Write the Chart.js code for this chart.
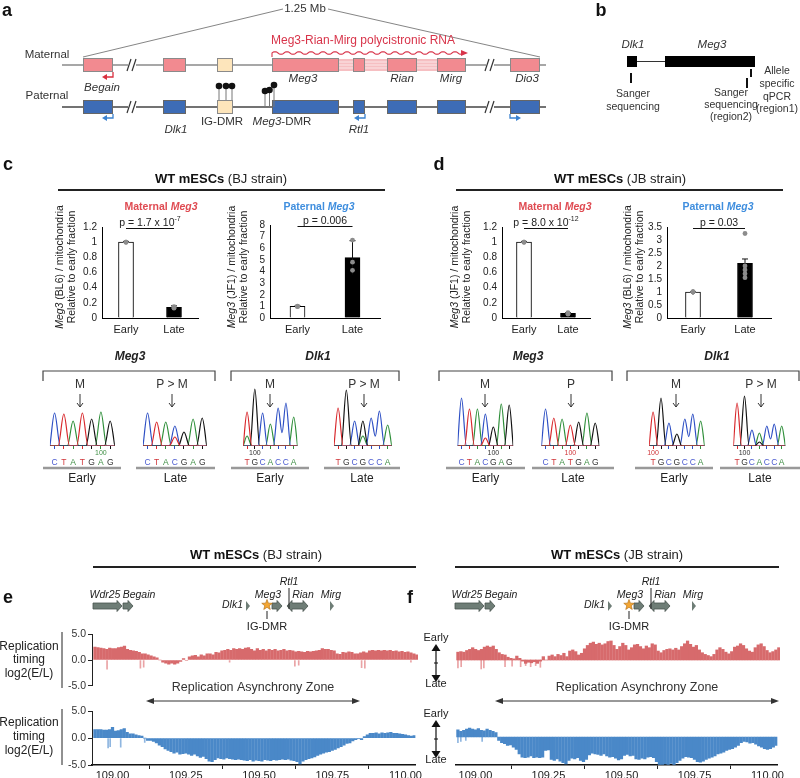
<!DOCTYPE html>
<html>
<head>
<meta charset="utf-8">
<script src="https://cdn.jsdelivr.net/npm/chart.js@4.4.1/dist/chart.umd.min.js"></script>
<style>
  body { margin: 0; background: #fff; width: 800px; height: 778px; position: relative; overflow: hidden; }
  #overlay { position: absolute; left: 0; top: 0; z-index: 5; pointer-events: none; }
</style>
</head>
<body>
<canvas id="overlay" width="800" height="778"></canvas>
<script>
// ---------- data ----------
const fractions = ['Early', 'Late'];

// c: WT mESCs (BJ strain), allele specific qPCR, relative to early fraction
const bjMatMean = [1.0, 0.14];
const bjMatErr = [0.01, 0.02];
const bjMatDots = [[1.0, 1.0, 1.0], [0.15, 0.13, 0.14]];
const bjPatMean = [1.0, 5.2];
const bjPatErr = [0.04, 1.45];
const bjPatDots = [[1.0, 1.03, 0.97], [6.7, 4.8, 4.1]];

// d: WT mESCs (JB strain)
const jbMatMean = [1.0, 0.06];
const jbMatErr = [0.01, 0.01];
const jbMatDots = [[1.0, 1.0, 1.0], [0.07, 0.05, 0.06]];
const jbPatMean = [1.0, 2.1];
const jbPatErr = [0.02, 0.17];
const jbPatDots = [[1.0, 1.0, 1.0, 1.0, 1.0], [3.25, 2.0, 1.85, 1.7, 1.55]];

// Sanger traces: called bases, main peak height, minor peaks [index, base, height]
const bjMeg3EarlySeq = ['C', 'T', 'A', 'T', 'G', 'A', 'G'];
const bjMeg3EarlyPeaks = [33, 32, 25, 33, 27, 34, 25];
const bjMeg3EarlyMinor = [];
const bjMeg3LateSeq = ['C', 'T', 'A', 'C', 'G', 'A', 'G'];
const bjMeg3LatePeaks = [33, 24, 24, 20, 14, 27, 28];
const bjMeg3LateMinor = [[3, 'T', 9]];
const bjDlk1EarlySeq = ['T', 'G', 'C', 'A', 'C', 'C', 'A'];
const bjDlk1EarlyPeaks = [34, 57, 33, 22, 38, 43, 29];
const bjDlk1EarlyMinor = [[0, 'A', 10]];
const bjDlk1LateSeq = ['T', 'G', 'C', 'G', 'C', 'C', 'A'];
const bjDlk1LatePeaks = [38, 56, 25, 25, 28, 35, 21];
const bjDlk1LateMinor = [[3, 'A', 10]];

const jbMeg3EarlySeq = ['C', 'T', 'A', 'C', 'G', 'A', 'G'];
const jbMeg3EarlyPeaks = [48, 37, 37, 32, 19, 42, 41];
const jbMeg3EarlyMinor = [[3, 'T', 8]];
const jbMeg3LateSeq = ['C', 'T', 'A', 'T', 'G', 'A', 'G'];
const jbMeg3LatePeaks = [37, 28, 27, 21, 24, 33, 23];
const jbMeg3LateMinor = [];
const jbDlk1EarlySeq = ['T', 'G', 'C', 'G', 'C', 'C', 'A'];
const jbDlk1EarlyPeaks = [34, 48, 23, 12, 27, 32, 25];
const jbDlk1EarlyMinor = [];
const jbDlk1LateSeq = ['T', 'G', 'C', 'A', 'C', 'C', 'A'];
const jbDlk1LatePeaks = [43, 50, 16, 13, 20, 22, 20];
const jbDlk1LateMinor = [[3, 'G', 4]];

// replication timing log2(E/L), 10 kb bins from 108.94 Mb
const trackStart = 108.94;
const trackStep = 0.01;
const rtXTicks = [109.0, 109.25, 109.5, 109.75, 110.0];
const rtYTicks = [-5, -2.5, 0, 2.5, 5];

const bjMatRT = [
  2.5, 2.4, 2.3, 2.2, 2.1, 2.3, 2.2, 2.2, 2.4, 2.5,
  2.7, 2.1, 1.9, 1.8, 1.7, 1.5, 1.2, 1.2, 1.0, 0.8,
  0.6, 0.4, 0.0, -0.4, -0.6, -0.8, -0.6, -0.8, -0.6, -0.3,
  0.3, -0.1, 0.6, 0.8, 0.9, 0.6, 1.0, 0.8, 1.2, 1.2,
  1.0, 1.5, 1.4, 1.8, 1.9, 2.1, 1.9, 2.2, 2.1, 2.2,
  2.1, 2.3, 2.4, 2.1, 1.8, 2.2, 1.9, 2.1, 1.8, 2.1,
  1.9, 2.1, 1.8, 1.9, 2.1, 1.8, 1.9, 1.8, 1.6, 1.7,
  1.6, 1.5, 1.7, 1.6, 1.7, 1.8, 1.9, 2.2, 2.1, 2.1,
  1.9, 1.8, 1.2, 1.1, 1.5, 1.4, 1.6, 1.5, 1.2, 1.2,
  1.4, 1.6, 1.4, 1.8, 1.9, 1.8, 1.9, 1.8, 1.9, 1.8,
  1.9, 1.7, 1.8, 1.6, 1.7, 1.5, 1.6, 1.4, 1.2, 1.0
];
const bjPatRT = [
  1.6, 1.6, 1.6, 1.5, 1.5, 1.6, 2.0, 1.3, 1.4, 1.6,
  1.8, 1.1, 0.8, 0.8, 0.6, 0.5, 0.4, 0.0, -0.4, -0.4,
  -0.6, -0.9, -1.3, -1.6, -2.0, -2.3, -2.5, -2.8, -2.6, -3.0,
  -2.9, -2.8, -3.0, -3.2, -3.0, -3.3, -3.6, -3.4, -3.8, -4.3,
  -4.4, -4.0, -3.7, -3.8, -3.9, -3.7, -3.8, -3.9, -4.0, -3.9,
  -4.0, -4.1, -4.2, -4.0, -4.3, -4.1, -4.2, -4.3, -4.0, -4.1,
  -4.2, -4.0, -4.1, -4.0, -3.9, -4.0, -3.9, -4.1, -4.2, -4.4,
  -4.8, -4.3, -4.0, -3.8, -3.7, -3.5, -3.2, -3.0, -2.8, -2.6,
  -2.5, -2.3, -2.1, -1.8, -1.6, -1.3, -1.0, -0.9, -0.5, -0.3,
  -0.1, -0.3, 0.3, 0.6, 0.9, 0.9, 1.0, 0.8, 1.0, 0.9,
  1.0, 1.1, 0.9, 0.9, 0.8, 0.7, 0.6, 0.5, 0.4, 0.5
];
const jbMatRT = [
  1.4, 1.5, 1.4, 1.7, 1.9, 2.2, 1.9, 1.7, 1.9, 2.3,
  2.5, 2.3, 2.5, 1.9, 1.3, 1.0, 0.9, 0.5, 0.3, 0.2,
  0.7, 0.3, -0.2, -0.6, -0.4, -0.5, -0.3, -0.6, -0.2, 0.6,
  0.0, 0.7, 0.9, 0.6, 1.0, 0.8, 1.2, 0.6, 1.6, 1.8,
  1.5, 0.9, 1.2, 2.0, 2.6, 3.0, 3.2, 2.8, 3.0, 2.7,
  2.9, 3.3, 3.4, 2.6, 1.9, 2.4, 3.0, 2.6, 1.8, 2.2,
  2.7, 2.8, 2.4, 2.0, 2.5, 2.2, 2.9, 2.7, 1.6, 1.3,
  1.7, 1.9, 2.0, 1.8, 2.1, 1.8, 2.4, 2.9, 3.4, 2.8,
  2.3, 2.6, 1.8, 1.3, 1.0, 0.8, 0.6, 1.0, 1.8, 2.2,
  1.9, 1.4, 1.1, 1.5, 2.3, 2.5, 2.9, 2.6, 2.0, 1.6,
  1.4, 2.2, 2.7, 2.9, 2.4, 1.7, 1.3, 1.5, 1.8, 2.2
];
const jbPatRT = [
  1.3, 1.0, 1.2, 1.4, 1.6, 1.4, 1.3, 1.5, 1.2, 1.1,
  1.4, 1.2, 1.0, 0.8, -0.6, -1.0, -1.2, -1.5, -1.4, -1.8,
  -2.2, -3.0, -3.6, -3.7, -3.6, -3.4, -3.7, -3.6, -3.7, -3.6,
  -2.4, -2.3, -4.0, -4.2, -3.9, -4.3, -4.6, -4.8, -4.2, -3.8,
  -3.9, -3.7, -4.2, -4.4, -4.0, -3.2, -2.9, -3.0, -3.1, -3.3,
  -3.0, -3.4, -3.6, -3.5, -3.8, -4.1, -3.9, -3.3, -3.1, -3.4,
  -3.3, -3.9, -4.0, -3.8, -3.9, -3.6, -3.5, -3.7, -4.4, -4.9,
  -4.9, -4.8, -4.9, -4.7, -4.9, -4.6, -4.2, -3.8, -3.5, -3.6,
  -3.7, -4.0, -4.4, -4.5, -4.3, -4.0, -3.8, -3.6, -3.4, -3.0,
  -2.9, -2.7, -2.4, -2.2, -2.1, -1.8, -1.5, -1.0, -0.8, -0.9,
  -1.1, -1.0, -1.3, -1.6, -1.8, -2.1, -2.2, -2.1, -1.8, -1.5
];
// single-bin dips [position Mb, log2(E/L)]
const bjMatDips = [[108.981, -1.8], [109.094, -1.6], [109.105, -1.4], [109.396, -0.4], [109.617, -1.2], [109.63, -1.0], [109.843, -1.5], [109.854, -1.6], [110.01, -0.4]];
const bjPatDips = [[108.985, -1.8], [108.992, -1.6], [109.028, -1.7], [109.11, -0.8]];
const jbMatDips = [[108.94, -1.4], [108.951, -1.2], [109.019, -1.6], [109.028, -1.4], [109.10, -1.2], [109.124, -1.1], [109.153, -1.2], [109.17, -1.0], [109.187, -1.2], [109.204, -1.0], [109.22, -1.3]];
const jbPatDips = [[108.94, -1.0], [108.95, -0.8], [108.967, -0.6], [109.023, -0.8]];

// ---------- setup ----------
const FF = "'Liberation Sans', Arial, sans-serif";
Chart.defaults.font.family = FF;
Chart.defaults.color = '#222';
Chart.defaults.animation = false;
Chart.defaults.events = [];
Chart.defaults.plugins.legend.display = false;
Chart.defaults.plugins.tooltip.enabled = false;

const RED = '#df4b52';
const BLUE = '#3f8ede';
const traceColor = { A: '#2f8f3a', C: '#2d4fc4', G: '#111111', T: '#d8282c' };
const letterColor = { A: '#3f8f45', C: '#4b5bd0', G: '#333333', T: '#d0363a' };

function makeCanvas(left, top, w, h) {
  const c = document.createElement('canvas');
  c.width = w; c.height = h;
  c.style.cssText = `position:absolute;left:${left}px;top:${top}px;width:${w}px;height:${h}px`;
  document.body.appendChild(c);
  return c;
}

// ---------- qPCR bar charts ----------
const pBracket = {
  id: 'pBracket',
  afterDatasetDraw(chart, args, o) {
    if (args.index !== 0) return;
    const { ctx, scales: { x, y } } = chart;
    ctx.save();
    ctx.strokeStyle = '#111';
    ctx.lineWidth = 1;
    // error bars
    o.mean.forEach((m, i) => {
      const px = x.getPixelForValue(i);
      const hi = y.getPixelForValue(m + o.err[i]);
      const lo = y.getPixelForValue(Math.max(0, m - o.err[i]));
      ctx.beginPath();
      ctx.moveTo(px, lo); ctx.lineTo(px, hi);
      ctx.moveTo(px - 3, hi); ctx.lineTo(px + 3, hi);
      ctx.stroke();
    });
    // p value bracket
    const x0 = x.getPixelForValue(0), x1 = x.getPixelForValue(1), yy = y.top + 1.5;
    ctx.beginPath(); ctx.moveTo(x0, yy); ctx.lineTo(x1, yy); ctx.stroke();
    ctx.fillStyle = '#222';
    ctx.textBaseline = 'alphabetic';
    ctx.font = `10.5px ${FF}`;
    const w0 = ctx.measureText(o.p[0]).width;
    ctx.font = `7px ${FF}`;
    const w1 = o.p[1] ? ctx.measureText(o.p[1]).width : 0;
    const sx = (x0 + x1) / 2 - (w0 + w1) / 2;
    ctx.font = `10.5px ${FF}`;
    ctx.fillText(o.p[0], sx, yy - 3);
    if (o.p[1]) { ctx.font = `7px ${FF}`; ctx.fillText(o.p[1], sx + w0, yy - 8); }
    ctx.restore();
  }
};

function qpcrChart(area, mean, err, dots, yMax, step, p) {
  const cv = makeCanvas(area.l - 24, area.t - 16, 24 + (area.r - area.l) + 6, 16 + (area.b - area.t) + 20);
  new Chart(cv, {
    type: 'bar',
    data: {
      labels: fractions,
      datasets: [
        { type: 'bar', data: mean, backgroundColor: ['#ffffff', '#000000'], borderColor: '#000', borderWidth: 1, barThickness: 15, order: 2 },
        { type: 'scatter', data: dots.flatMap((arr, i) => arr.map(v => ({ x: fractions[i], y: v }))),
          backgroundColor: '#8c8c8c', pointRadius: 2.4, borderWidth: 0, order: 1 }
      ]
    },
    options: {
      responsive: false,
      layout: { padding: { top: 16, right: 6, left: 0, bottom: 0 } },
      plugins: { pBracket: { mean, err, p } },
      scales: {
        x: {
          type: 'category', offset: true,
          grid: { display: true, drawOnChartArea: false, drawTicks: false },
          border: { display: true, color: '#000', width: 1 },
          ticks: { font: { size: 11 }, color: '#222', padding: 5 },
          afterFit(s) { s.height = 20; }
        },
        y: {
          min: 0, max: yMax,
          ticks: { stepSize: step, autoSkip: false, callback: v => String(Math.round(v * 100) / 100), font: { size: 10 }, color: '#222', padding: 5 },
          grid: { display: true, drawOnChartArea: false, drawTicks: false },
          border: { display: true, color: '#000', width: 1 },
          afterFit(s) { s.width = 24; }
        }
      }
    },
    plugins: [pBracket]
  });
}

qpcrChart({ l: 102, t: 227, r: 198, b: 318 }, bjMatMean, bjMatErr, bjMatDots, 1.2, 0.2, ['p = 1.7 x 10', '-7']);
qpcrChart({ l: 270, t: 225, r: 380, b: 318 }, bjPatMean, bjPatErr, bjPatDots, 8, 1, ['p = 0.006']);
qpcrChart({ l: 502, t: 227, r: 590, b: 318 }, jbMatMean, jbMatErr, jbMatDots, 1.2, 0.2, ['p = 8.0 x 10', '-12']);
qpcrChart({ l: 667, t: 227, r: 771, b: 318 }, jbPatMean, jbPatErr, jbPatDots, 3.5, 0.5, ['p = 0.03']);

// ---------- Sanger chromatograms ----------
const chromBase = 446;
const mark100 = {
  id: 'mark100',
  afterDraw(chart, args, o) {
    if (!o.index && o.index !== 0) return;
    const { ctx, scales: { x }, chartArea } = chart;
    ctx.save();
    ctx.font = `7px ${FF}`;
    ctx.fillStyle = o.color;
    ctx.textAlign = 'center';
    ctx.textBaseline = 'middle';
    ctx.fillText('100', x.getPixelForValue(o.index), chartArea.bottom + 7);
    ctx.restore();
  }
};

// one trace per dye: each called peak rises from the baseline and falls back,
// neighbouring peaks of the same dye meet in a shallow valley
function tracePoints(seq, peaks, minor, ch) {
  const n = seq.length;
  const h = seq.map((b, i) => {
    let v = b === ch ? peaks[i] : 0;
    minor.forEach(m => { if (m[0] === i && m[1] === ch) v = m[2]; });
    return v;
  });
  const pts = [{ x: -0.5, y: 0 }];
  h.forEach((v, i) => {
    if (!v) return;
    if (!h[i - 1]) { const lx = i - 0.62; if (lx > -0.5) pts.push({ x: lx, y: 0 }); }
    pts.push({ x: i, y: v });
    if (h[i + 1]) pts.push({ x: i + 0.5, y: 0.35 * Math.min(v, h[i + 1]) });
    else { const rx = i + 0.62; if (rx < n - 0.5) pts.push({ x: rx, y: 0 }); }
  });
  pts.push({ x: n - 0.5, y: 0 });
  return pts;
}

function chromChart(left, right, seq, peaks, minor, mark) {
  const n = seq.length;
  const w = Math.round(right - left);
  const cv = makeCanvas(Math.round(left), chromBase - 60, w, 82);
  const datasets = ['T', 'G', 'C', 'A'].map(ch => ({
    data: tracePoints(seq, peaks, minor, ch),
    borderColor: traceColor[ch], borderWidth: 1.2, pointRadius: 0, cubicInterpolationMode: 'monotone', fill: false
  }));
  new Chart(cv, {
    type: 'line',
    data: { datasets },
    options: {
      responsive: false,
      layout: { padding: 0 },
      plugins: { mark100: mark || {} },
      scales: {
        x: {
          type: 'linear', min: -0.5, max: n - 0.5, offset: false,
          afterBuildTicks(s) { s.ticks = seq.map((b, i) => ({ value: i })); },
          ticks: {
            callback: (v, i) => seq[i], autoSkip: false, maxRotation: 0,
            color: ctx => letterColor[seq[ctx.index]], font: { size: 8.5 }, padding: 9
          },
          grid: { drawOnChartArea: false, tickLength: 3, tickColor: ctx => traceColor[seq[ctx.index]] },
          border: { display: false },
          afterFit(s) { s.height = 22; }
        },
        y: { display: false, min: 0, max: 60 }
      }
    },
    plugins: [mark100]
  });
}

chromChart(42.7, 121.3, bjMeg3EarlySeq, bjMeg3EarlyPeaks, bjMeg3EarlyMinor, { index: 5, color: '#3f8f45' });
chromChart(136.1, 213.9, bjMeg3LateSeq, bjMeg3LatePeaks, bjMeg3LateMinor, null);
chromChart(235.8, 304.9, bjDlk1EarlySeq, bjDlk1EarlyPeaks, bjDlk1EarlyMinor, { index: 1, color: '#333' });
chromChart(327.1, 399.5, bjDlk1LateSeq, bjDlk1LatePeaks, bjDlk1LateMinor, null);
chromChart(449.9, 521.1, jbMeg3EarlySeq, jbMeg3EarlyPeaks, jbMeg3EarlyMinor, { index: 4, color: '#333' });
chromChart(534.1, 606.9, jbMeg3LateSeq, jbMeg3LatePeaks, jbMeg3LateMinor, { index: 3, color: '#d0363a' });
chromChart(641.7, 711.7, jbDlk1EarlySeq, jbDlk1EarlyPeaks, jbDlk1EarlyMinor, { index: 0, color: '#d0363a' });
chromChart(726.2, 793.1, jbDlk1LateSeq, jbDlk1LatePeaks, jbDlk1LateMinor, { index: 1, color: '#333' });

// ---------- replication timing tracks ----------
function rtChart(area, values, dips, color, dipColor, showY, showX) {
  const yW = showY ? 30 : 0;
  const cv = makeCanvas(area.l - yW, area.t - 6, yW + (area.r - area.l) + 4, 6 + (area.b - area.t) + (showX ? 14 : 6));
  new Chart(cv, {
    type: 'bar',
    data: {
      datasets: [
        { data: values.map((v, i) => ({ x: trackStart + i * trackStep, y: v })), backgroundColor: color, barThickness: 2.6, grouped: false, order: 1 },
        { data: dips.map(d => ({ x: d[0], y: d[1] })), backgroundColor: dipColor, barThickness: 1, grouped: false, order: 2 }
      ]
    },
    options: {
      responsive: false,
      layout: { padding: { top: 6, right: 4, bottom: showX ? 0 : 6, left: 0 } },
      scales: {
        x: {
          type: 'linear', min: 108.93, max: 110.034, offset: false, display: showX,
          afterBuildTicks(s) { s.ticks = rtXTicks.map(v => ({ value: v })); },
          ticks: { callback: v => v.toFixed(2), font: { size: 11 }, color: '#222', padding: 0, maxRotation: 0, autoSkip: false },
          grid: { drawOnChartArea: false, tickLength: 4, tickColor: '#222' },
          border: { color: '#111', width: 1.5 },
          afterFit(s) { if (showX) s.height = 14; }
        },
        y: {
          min: -5, max: 5, display: showY,
          afterBuildTicks(s) { s.ticks = rtYTicks.map(v => ({ value: v })); },
          ticks: { callback: v => (v % 5 === 0 ? v.toFixed(1) : ''), font: { size: 10.5 }, color: '#333', padding: 2 },
          grid: { drawOnChartArea: false, tickLength: 4, tickColor: '#222' },
          border: { color: '#222', width: 1 },
          afterFit(s) { if (showY) s.width = 30; }
        }
      }
    }
  });
}

rtChart({ l: 92, t: 632, r: 418, b: 688 }, bjMatRT, bjMatDips, '#d76a6c', '#eaa3a5', true, false);
rtChart({ l: 92, t: 709, r: 418, b: 765 }, bjPatRT, bjPatDips, '#4a88c8', '#8fb6e0', true, true);
rtChart({ l: 455, t: 632, r: 780, b: 688 }, jbMatRT, jbMatDips, '#d76a6c', '#eaa3a5', false, false);
rtChart({ l: 455, t: 709, r: 780, b: 765 }, jbPatRT, jbPatDips, '#4a88c8', '#8fb6e0', false, true);

// ---------- schematic layer ----------
const ov = document.getElementById('overlay').getContext('2d');

function fnt(size, weight, style) { return `${style || 'normal'} ${weight || 'normal'} ${size}px ${FF}`; }
function text(s, x, y, size, o) {
  o = o || {};
  ov.font = fnt(size, o.weight, o.style);
  ov.fillStyle = o.color || '#222';
  ov.textAlign = o.align || 'center';
  ov.textBaseline = 'middle';
  ov.fillText(s, x, y);
}
// parts: [string, size, weight, style, color]
function rich(parts, x, y, align) {
  let w = 0;
  parts.forEach(p => { ov.font = fnt(p[1], p[2], p[3]); w += ov.measureText(p[0]).width; });
  let cx = align === 'left' ? x : align === 'right' ? x - w : x - w / 2;
  ov.textAlign = 'left';
  ov.textBaseline = 'middle';
  parts.forEach(p => {
    ov.font = fnt(p[1], p[2], p[3]);
    ov.fillStyle = p[4] || '#222';
    ov.fillText(p[0], cx, y);
    cx += ov.measureText(p[0]).width;
  });
}
function line(x1, y1, x2, y2, color, w) {
  ov.strokeStyle = color || '#222';
  ov.lineWidth = w || 1;
  ov.beginPath(); ov.moveTo(x1, y1); ov.lineTo(x2, y2); ov.stroke();
}
function tri(x, y, dir, len, half, color) {
  ov.fillStyle = color;
  ov.beginPath();
  if (dir === 'l') { ov.moveTo(x, y); ov.lineTo(x + len, y - half); ov.lineTo(x + len, y + half); }
  else if (dir === 'r') { ov.moveTo(x, y); ov.lineTo(x - len, y - half); ov.lineTo(x - len, y + half); }
  else if (dir === 'u') { ov.moveTo(x, y); ov.lineTo(x - half, y + len); ov.lineTo(x + half, y + len); }
  else { ov.moveTo(x, y); ov.lineTo(x - half, y - len); ov.lineTo(x + half, y - len); }
  ov.closePath(); ov.fill();
}
function box(x1, x2, y1, y2, fill, stroke) {
  ov.fillStyle = fill;
  ov.fillRect(x1, y1, x2 - x1, y2 - y1);
  if (stroke) { ov.strokeStyle = stroke; ov.lineWidth = 1; ov.strokeRect(x1 + 0.5, y1 + 0.5, x2 - x1 - 1, y2 - y1 - 1); }
}
function panelLetter(s, x, y) { text(s, x, y, 18, { weight: 'bold', color: '#111' }); }

// panel a: Dlk1-Dio3 domain
function panelA() {
  panelLetter('a', 7, 11);
  line(83, 57, 283, 9, '#666', 0.8);
  line(328, 9, 540, 57, '#666', 0.8);
  text('1.25 Mb', 305, 9, 11.5, { color: '#333' });
  text('Maternal', 47, 55, 11.5, { color: '#333' });
  text('Paternal', 47, 96, 11.5, { color: '#333' });
  line(62, 65, 546, 65, '#8a8a8a', 1.4);
  line(62, 107, 546, 107, '#444', 1.4);

  const pink = '#f28a90', blue = '#3d6cb6', beige = '#fde5bb';
  [[339, 353], [365, 387], [417, 437]].forEach(([a, b]) => {
    box(a, b, 59, 71, '#f6bfc2');
    [62, 65, 68].forEach(yy => line(a, yy, b, yy, '#fbe1e2', 1.2));
  });
  [[83, 113], [163, 186], [272, 339], [353, 365], [387, 417], [437, 466], [510, 540]].forEach(([a, b]) => box(a, b, 58, 72, pink, '#8a8a8a'));
  box(217, 233, 58, 72, beige, '#8a8a8a');
  [[83, 113], [163, 186], [272, 339], [353, 365], [387, 417], [437, 466], [510, 540]].forEach(([a, b]) => box(a, b, 100, 114, blue, '#666'));
  box(217, 233, 100, 114, beige, '#8a8a8a');

  // breaks
  [[132, 65], [490, 65], [132, 107], [490, 107]].forEach(([x, y]) => {
    ov.fillStyle = '#fff'; ov.fillRect(x - 4, y - 2, 8, 4);
    line(x - 5, y + 6, x - 1, y - 6, '#333', 1.2);
    line(x, y + 6, x + 4, y - 6, '#333', 1.2);
  });

  // methylated CpGs
  const lolli = (x, top, bottom) => {
    line(x, top, x, bottom, '#777', 1);
    ov.fillStyle = '#111'; ov.beginPath(); ov.arc(x, top, 3.3, 0, 2 * Math.PI); ov.fill();
  };
  lolli(219, 86, 100); lolli(226, 86, 100); lolli(232, 86, 100);
  lolli(265, 91, 107); lolli(269.5, 90, 107); lolli(274, 85, 107);

  // transcription start arrows
  const bent = (x, y1, y2, x2, color) => {
    ov.strokeStyle = color; ov.lineWidth = 1.3;
    ov.beginPath(); ov.moveTo(x, y1); ov.lineTo(x, y2); ov.lineTo(x2 + (x2 < x ? 4 : -4), y2); ov.stroke();
    tri(x2, y2, x2 < x ? 'l' : 'r', 5, 3, color);
  };
  bent(113, 72, 77, 102, '#d9303f');
  bent(113, 114, 118, 102, '#3b82d0');
  bent(365, 114, 118, 354, '#3b82d0');
  bent(510, 114, 118, 521, '#3b82d0');

  // polycistronic transcript
  ov.strokeStyle = '#d8344a'; ov.lineWidth = 1.1;
  ov.beginPath(); ov.moveTo(272, 57); ov.lineTo(272, 53);
  for (let x = 272; x <= 461; x++) ov.lineTo(x, 53 - 1.3 * Math.sin((x - 272) / 12 * 2 * Math.PI));
  ov.stroke();
  tri(468, 53, 'r', 7, 3, '#d8344a');
  text('Meg3-Rian-Mirg polycistronic RNA', 363, 41, 12, { color: '#d8344a' });

  const it = { style: 'italic', color: '#333' };
  text('Begain', 102, 88, 11.5, it);
  text('Meg3', 303, 79, 11.5, it);
  text('Rian', 402, 79, 11.5, it);
  text('Mirg', 451, 79, 11.5, it);
  text('Dio3', 527, 79, 11.5, it);
  text('Dlk1', 176, 130, 11.5, it);
  text('Rtl1', 359, 130, 11.5, it);
  text('IG-DMR', 222, 122, 11.5, { color: '#333' });
  rich([['Meg3', 11.5, 'normal', 'italic', '#333'], ['-DMR', 11.5, 'normal', 'normal', '#333']], 282, 122);
}

// panel b: assay positions
function panelB() {
  panelLetter('b', 601, 11);
  text('Dlk1', 633, 45, 11.5, { style: 'italic', color: '#333' });
  text('Meg3', 712, 45, 11.5, { style: 'italic', color: '#333' });
  box(627, 637, 56, 67, '#000');
  line(637, 61.5, 665, 61.5, '#333', 1);
  box(665, 755, 56, 67, '#000');
  line(631, 73, 631, 83, '#111', 2);
  line(747, 78, 747, 88, '#111', 2);
  line(751, 69, 751, 77, '#111', 2);
  const o = { color: '#333' };
  text('Sanger', 633, 94, 10.5, o); text('sequencing', 633, 107, 10.5, o);
  text('Sanger', 731, 93, 10.5, o); text('sequencing', 731, 105, 10.5, o); text('(region2)', 731, 117, 10.5, o);
  text('Allele', 777, 71, 10.5, o); text('specific', 777, 84, 10.5, o); text('qPCR', 777, 97, 10.5, o); text('(region1)', 777, 109, 10.5, o);
}

function strainHeader(cx, y, lineY, l, r, strain) {
  rich([['WT mESCs', 13, 'bold', 'normal', '#111'], [' (' + strain + ' strain)', 13, 'normal', 'normal', '#222']], cx, y);
  line(l, lineY, r, lineY, '#222', 2);
}
function alleleTitle(word, cx, color) {
  rich([[word + ' ', 10.5, 'bold', 'normal', color], ['Meg3', 10.5, 'bold', 'italic', color]], cx, 207);
}
function yTitle(x, strain) {
  ov.save();
  ov.translate(x, 267); ov.rotate(-Math.PI / 2);
  rich([['Meg3', 10.5, 'normal', 'italic', '#222'], [' (' + strain + ') / mitochondria', 10.5, 'normal', 'normal', '#222']], 0, 0);
  ov.restore();
  ov.save();
  ov.translate(x + 12.5, 267); ov.rotate(-Math.PI / 2);
  text('Relative to early fraction', 0, 0, 10.5, { color: '#222' });
  ov.restore();
}
function bracket(l, r, label, lx) {
  text(label, lx, 357, 12, { weight: 'bold', style: 'italic', color: '#222' });
  ov.strokeStyle = '#444'; ov.lineWidth = 1.2;
  ov.beginPath(); ov.moveTo(l, 381); ov.lineTo(l, 371); ov.lineTo(r, 371); ov.lineTo(r, 381); ov.stroke();
}
function allele(s, x) {
  text(s, x, 385, 12, { color: '#333' });
  line(x, 394, x, 407, '#333', 1);
  line(x - 3, 403, x, 407, '#333', 1);
  line(x + 3, 403, x, 407, '#333', 1);
}
function fractionBar(l, r, s) {
  line(l, 468, r, 468, '#999', 2.5);
  text(s, (l + r) / 2, 479, 12, { color: '#222' });
}

function panelCD() {
  panelLetter('c', 8, 165);
  panelLetter('d', 439, 165);
  strainHeader(221, 179, 190, 58, 385, 'BJ');
  strainHeader(620, 179, 190, 456, 783, 'JB');
  alleleTitle('Maternal', 161, RED);
  alleleTitle('Paternal', 319, BLUE);
  alleleTitle('Maternal', 555, RED);
  alleleTitle('Paternal', 718, BLUE);
  yTitle(60, 'BL6'); yTitle(232, 'JF1'); yTitle(455, 'JF1'); yTitle(628, 'BL6');

  bracket(43, 215, 'Meg3', 130); bracket(231, 399, 'Dlk1', 318);
  bracket(439, 612, 'Meg3', 528); bracket(627, 799, 'Dlk1', 717);
  allele('M', 80); allele('P > M', 172); allele('M', 270); allele('P > M', 364);
  allele('M', 485); allele('P', 571); allele('M', 676); allele('P > M', 761);
  fractionBar(43, 121, 'Early'); fractionBar(136, 215, 'Late');
  fractionBar(231, 309, 'Early'); fractionBar(324, 400, 'Late');
  fractionBar(446, 525, 'Early'); fractionBar(532, 614, 'Late');
  fractionBar(635, 713, 'Early'); fractionBar(720, 800, 'Late');
}

// gene track above replication timing
function geneTrack(dx) {
  const fill = '#6e7d76', edge = '#48534e';
  const arrow = (x1, x2, y) => {
    ov.fillStyle = fill; ov.strokeStyle = edge; ov.lineWidth = 0.8;
    ov.beginPath();
    ov.moveTo(x1, y - 3); ov.lineTo(x2 - 5, y - 3); ov.lineTo(x2 - 5, y - 5.5); ov.lineTo(x2, y);
    ov.lineTo(x2 - 5, y + 5.5); ov.lineTo(x2 - 5, y + 3); ov.lineTo(x1, y + 3); ov.closePath();
    ov.fill(); ov.stroke();
  };
  arrow(93 + dx, 122 + dx, 606);
  arrow(123 + dx, 133 + dx, 606);
  arrow(272 + dx, 282 + dx, 606);
  // Rian, double headed
  ov.fillStyle = fill; ov.strokeStyle = edge; ov.lineWidth = 0.8;
  ov.beginPath();
  const a = 287 + dx, b = 308 + dx, y = 606;
  ov.moveTo(a, y); ov.lineTo(a + 5, y - 5.5); ov.lineTo(a + 5, y - 3); ov.lineTo(b - 5, y - 3); ov.lineTo(b - 5, y - 5.5);
  ov.lineTo(b, y); ov.lineTo(b - 5, y + 5.5); ov.lineTo(b - 5, y + 3); ov.lineTo(a + 5, y + 3); ov.lineTo(a + 5, y + 5.5);
  ov.closePath(); ov.fill(); ov.stroke();
  tri(250 + dx, 606, 'r', 4, 5, fill);
  tri(334 + dx, 606, 'r', 4, 5, fill);
  line(289 + dx, 588, 289 + dx, 609, '#222', 1);
  line(267 + dx, 611, 267 + dx, 619, '#222', 1);
  // IG-DMR star
  ov.fillStyle = '#f4a632'; ov.strokeStyle = '#b8741a'; ov.lineWidth = 0.7;
  ov.beginPath();
  for (let k = 0; k < 10; k++) {
    const r = k % 2 === 0 ? 5.5 : 2.3;
    const ang = -Math.PI / 2 + k * Math.PI / 5;
    const px = 267 + dx + r * Math.cos(ang), py = 605 + r * Math.sin(ang);
    k === 0 ? ov.moveTo(px, py) : ov.lineTo(px, py);
  }
  ov.closePath(); ov.fill(); ov.stroke();
  const it = { style: 'italic', color: '#222' };
  text('Wdr25', 105 + dx, 595, 10.5, it);
  text('Begain', 139 + dx, 595, 10.5, it);
  text('Dlk1', 243 + dx, 605, 10.5, { style: 'italic', color: '#222', align: 'right' });
  text('Meg3', 268 + dx, 595, 10.5, it);
  text('Rtl1', 289 + dx, 582, 10.5, it);
  text('Rian', 303 + dx, 595, 10.5, it);
  text('Mirg', 331 + dx, 595, 10.5, it);
  text('IG-DMR', 267 + dx, 627, 11, { color: '#222' });
}

function zoneArrow(l, r, cx) {
  text('Replication Asynchrony Zone', cx, 688, 12.5, { color: '#333' });
  line(l + 6, 701, r - 6, 701, '#333', 1);
  tri(l, 701, 'l', 8, 3, '#333');
  tri(r, 701, 'r', 8, 3, '#333');
}
function earlyLate(x, top) {
  text('Early', x, top, 11, { color: '#222' });
  line(x, top + 10, x, top + 40, '#111', 1.2);
  tri(x, top + 6, 'u', 7, 4.5, '#111');
  tri(x, top + 44, 'd', 7, 4.5, '#111');
  line(x - 2, top + 25, x + 2, top + 25, '#111', 1);
  text('Late', x, top + 46, 11, { color: '#222' });
}

function panelEF() {
  panelLetter('e', 8, 598);
  panelLetter('f', 410, 598);
  strainHeader(256, 555, 567, 93, 416, 'BJ');
  strainHeader(617, 555, 567, 455, 779, 'JB');
  geneTrack(0);
  geneTrack(362);
  [[647, 660, 674], [723, 737, 751]].forEach(rows => {
    text('Replication', 29, rows[0], 12, { color: '#222' });
    text('timing', 29, rows[1], 12, { color: '#222' });
    text('log2(E/L)', 29, rows[2], 12, { color: '#222' });
  });
  line(62, 632, 62, 688, '#222', 1);
  line(62, 709, 62, 765, '#222', 1);
  zoneArrow(146, 360, 253);
  zoneArrow(495, 779, 637);
  earlyLate(436, 638);
  earlyLate(436, 714);
}

panelA();
panelB();
panelCD();
panelEF();
</script>
</body>
</html>
